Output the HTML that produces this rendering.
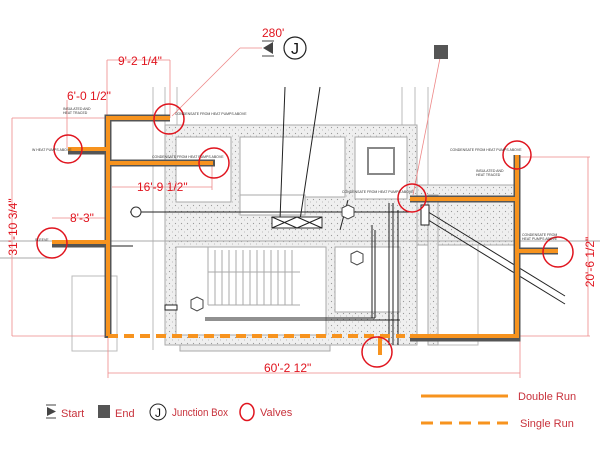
<!DOCTYPE html>
<html><head><meta charset="utf-8"><style>
html,body{margin:0;padding:0;background:#fff;}
svg{display:block;}
text{font-family:"Liberation Sans",Arial,sans-serif;}
</style></head><body>
<svg width="600" height="450" viewBox="0 0 600 450" xmlns="http://www.w3.org/2000/svg">
<defs>
<pattern id="st" width="6" height="6" patternUnits="userSpaceOnUse">
<rect width="6" height="6" fill="#efefef"/>
<circle cx="1.5" cy="1.5" r="0.6" fill="#999"/><circle cx="4.5" cy="4" r="0.5" fill="#aaa"/>
</pattern>
</defs>
<g stroke="#bbb" stroke-width="1" fill="none">
<line x1="153" y1="87" x2="153" y2="350"/><line x1="165" y1="87" x2="165" y2="125"/><line x1="177" y1="87" x2="177" y2="125"/>
<line x1="402" y1="87" x2="402" y2="130"/><line x1="415" y1="87" x2="415" y2="185"/><line x1="428" y1="87" x2="428" y2="185"/>
<rect x="72" y="276" width="45" height="75"/>
<rect x="438" y="205" width="40" height="140"/>
</g>
<rect x="165" y="125" width="252" height="220" fill="url(#st)" stroke="#aaa"/>
<rect x="176" y="137" width="55" height="65" fill="#fff" stroke="#aaa"/>
<rect x="240" y="137" width="105" height="60" fill="#fff" stroke="#aaa"/>
<rect x="355" y="137" width="52" height="62" fill="#fff" stroke="#aaa"/>
<rect x="368" y="148" width="26" height="26" fill="#fff" stroke="#888" stroke-width="2"/>
<rect x="240" y="195" width="65" height="20" fill="#fff" stroke="#aaa"/>
<rect x="176" y="247" width="150" height="88" fill="#fff" stroke="#aaa"/>
<rect x="335" y="247" width="65" height="65" fill="#fff" stroke="#aaa"/>
<rect x="417" y="185" width="100" height="60" fill="url(#st)" stroke="#aaa"/>
<rect x="428" y="195" width="10" height="150" fill="url(#st)" stroke="#aaa"/>
<g stroke="#aaa" stroke-width="1">
<line x1="208" y1="247" x2="208" y2="305"/>
<line x1="208" y1="272" x2="300" y2="272"/>
<line x1="208" y1="305" x2="300" y2="305"/>
<g><line x1="215" y1="250" x2="215" y2="305"/><line x1="222" y1="250" x2="222" y2="305"/><line x1="229" y1="250" x2="229" y2="305"/><line x1="236" y1="250" x2="236" y2="305"/><line x1="243" y1="250" x2="243" y2="305"/><line x1="250" y1="250" x2="250" y2="305"/><line x1="257" y1="250" x2="257" y2="305"/><line x1="264" y1="250" x2="264" y2="305"/><line x1="271" y1="250" x2="271" y2="305"/><line x1="278" y1="250" x2="278" y2="305"/><line x1="285" y1="250" x2="285" y2="305"/><line x1="292" y1="250" x2="292" y2="305"/></g>
<line x1="0" y1="241" x2="600" y2="241"/>
<line x1="0" y1="258" x2="52" y2="258"/>
<rect x="180" y="345" width="150" height="6" fill="#eee"/>
</g>
<g stroke="#222" stroke-width="1" fill="none">
<line x1="130" y1="212" x2="410" y2="212"/>
<line x1="133" y1="246" x2="108" y2="246"/>
<line x1="285" y1="87" x2="280" y2="220"/>
<line x1="320" y1="87" x2="300" y2="220"/>
<line x1="340" y1="230" x2="348" y2="200"/>
<rect x="272" y="217" width="50" height="11" fill="#fff" stroke="#333"/>
<line x1="272" y1="217" x2="297" y2="228"/><line x1="297" y1="217" x2="272" y2="228"/>
<line x1="297" y1="217" x2="322" y2="228"/><line x1="322" y1="217" x2="297" y2="228"/>
<line x1="372" y1="225" x2="372" y2="318"/><line x1="375" y1="230" x2="375" y2="318"/>
<line x1="205" y1="318" x2="375" y2="318"/><line x1="205" y1="320" x2="400" y2="320"/>
<line x1="389" y1="203" x2="389" y2="345"/><line x1="393" y1="203" x2="393" y2="345"/>
<line x1="398" y1="210" x2="398" y2="345"/>
<line x1="425" y1="210" x2="565" y2="296"/><line x1="425" y1="218" x2="565" y2="304"/>
<rect x="421" y="205" width="8" height="20" fill="#fff"/>
<rect x="165" y="305" width="12" height="5" fill="#fff"/>
</g>
<circle cx="136" cy="212" r="5" fill="#fff" stroke="#333"/>
<g fill="#fff" stroke="#444"><polygon points="342,208 348,205 354,208 354,216 348,219 342,216"/><polygon points="351,254 357,251 363,254 363,262 357,265 351,262"/><polygon points="191,300 197,297 203,300 203,308 197,311 191,308"/></g>
<g stroke="#e88" stroke-width="0.8" fill="none">
<line x1="107" y1="60" x2="170" y2="60"/><line x1="107" y1="60" x2="107" y2="118"/><line x1="170" y1="60" x2="170" y2="118"/>
<line x1="67" y1="100" x2="67" y2="148"/><line x1="12" y1="118" x2="108" y2="118"/>
<line x1="12" y1="118" x2="12" y2="336"/><line x1="12" y1="336" x2="108" y2="336"/>
<line x1="112" y1="187" x2="212" y2="187"/><line x1="212" y1="165" x2="212" y2="190"/>
<line x1="52" y1="218" x2="106" y2="218"/>
<line x1="108" y1="336" x2="108" y2="378"/><line x1="520" y1="336" x2="520" y2="378"/>
<line x1="108" y1="373" x2="520" y2="373"/>
<line x1="520" y1="157" x2="590" y2="157"/><line x1="588" y1="157" x2="588" y2="336"/><line x1="520" y1="336" x2="590" y2="336"/>
<line x1="172" y1="116" x2="240" y2="48"/><line x1="240" y1="48" x2="262" y2="48"/>
<line x1="413" y1="195" x2="440" y2="58"/>
</g>
<g fill="none" stroke-linecap="butt">
<g stroke="#555" stroke-width="7">
<polyline points="170,118 108,118 108,338"/>
<line x1="68" y1="151" x2="108" y2="151"/>
<line x1="108" y1="163" x2="215" y2="163"/>
<line x1="52" y1="244" x2="108" y2="244"/>
<polyline points="410,199 517,199"/>
<polyline points="517,155 517,338 410,338"/>
<line x1="517" y1="251" x2="558" y2="251"/>
</g>
<g stroke="#f7931e" stroke-width="4">
<polyline points="170,118 108,118 108,336"/>
<line x1="68" y1="149" x2="108" y2="149"/>
<line x1="108" y1="163" x2="213" y2="163"/>
<line x1="52" y1="242" x2="108" y2="242"/>
<polyline points="410,199 517,199"/>
<polyline points="517,155 517,336 410,336"/>
<line x1="517" y1="251" x2="558" y2="251"/>
<line x1="108" y1="336" x2="405" y2="336" stroke-dasharray="10,6"/>
<line x1="380" y1="336" x2="380" y2="355"/>
</g>
</g>
<g fill="none" stroke="#e0141e" stroke-width="1.5">
<circle cx="169" cy="119" r="15"/><circle cx="68" cy="149" r="14"/><circle cx="214" cy="163" r="15"/>
<circle cx="52" cy="243" r="15"/><circle cx="412" cy="198" r="14"/><circle cx="517" cy="155" r="14"/>
<circle cx="558" cy="252" r="15"/><circle cx="377" cy="352" r="15"/>
</g>
<g font-size="3.5" fill="#333">
<text x="63" y="110">INSULATED AND</text><text x="63" y="114">HEAT TRACED</text>
<text x="32" y="151">W HEAT PUMPS ABOVE</text>
<text x="175" y="115">CONDENSATE FROM HEAT PUMPS ABOVE</text>
<text x="152" y="158">CONDENSATE FROM HEAT PUMPS ABOVE</text>
<text x="35" y="241">SLEEVE</text>
<text x="342" y="193">CONDENSATE FROM HEAT PUMPS ABOVE</text>
<text x="450" y="151">CONDENSATE FROM HEAT PUMPS ABOVE</text>
<text x="476" y="172">INSULATED AND</text><text x="476" y="176">HEAT TRACED</text>
<text x="522" y="236">CONDENSATE FROM</text><text x="522" y="240">HEAT PUMPS ABOVE</text>
</g>
<g fill="#e0141e" font-size="12">
<text x="118" y="65">9'-2 1/4"</text>
<text x="67" y="100">6'-0 1/2"</text>
<text x="137" y="191">16'-9 1/2"</text>
<text x="70" y="222">8'-3"</text>
<text x="262" y="37">280'</text>
<text x="264" y="372">60'-2 12"</text>
<text transform="translate(17,227) rotate(-90)" text-anchor="middle">31'-10 3/4"</text>
<text transform="translate(594,262) rotate(-90)" text-anchor="middle">20'-6 1/2"</text>
</g>
<polygon points="263,48 273,42 273,54" fill="#444"/>
<line x1="262" y1="41" x2="274" y2="41" stroke="#444"/><line x1="262" y1="56" x2="274" y2="56" stroke="#444"/>
<circle cx="295" cy="48" r="11" fill="#fff" stroke="#222" stroke-width="1.2"/>
<text x="295" y="54" text-anchor="middle" font-size="16" fill="#111">J</text>
<rect x="434" y="45" width="14" height="14" fill="#555"/>
<polygon points="47,407 56,411.5 47,416" fill="#444"/>
<line x1="46" y1="405" x2="56" y2="405" stroke="#444"/><line x1="46" y1="418" x2="56" y2="418" stroke="#444"/>
<rect x="98" y="405" width="12" height="13" fill="#555"/>
<circle cx="158" cy="412" r="8" fill="#fff" stroke="#222"/>
<text x="158" y="417" text-anchor="middle" font-size="12" fill="#111">J</text>
<ellipse cx="247" cy="412" rx="7" ry="8.5" fill="none" stroke="#e0141e" stroke-width="1.5"/>
<g fill="#c8323c" font-size="11">
<text x="61" y="417">Start</text><text x="115" y="417">End</text>
<text x="172" y="416" textLength="56" lengthAdjust="spacingAndGlyphs">Junction Box</text><text x="260" y="416">Valves</text>
<text x="518" y="400">Double Run</text><text x="520" y="427">Single Run</text>
</g>
<line x1="421" y1="396" x2="508" y2="396" stroke="#f7931e" stroke-width="3"/>
<line x1="421" y1="423" x2="508" y2="423" stroke="#f7931e" stroke-width="3" stroke-dasharray="12,7"/>
</svg>
</body></html>
